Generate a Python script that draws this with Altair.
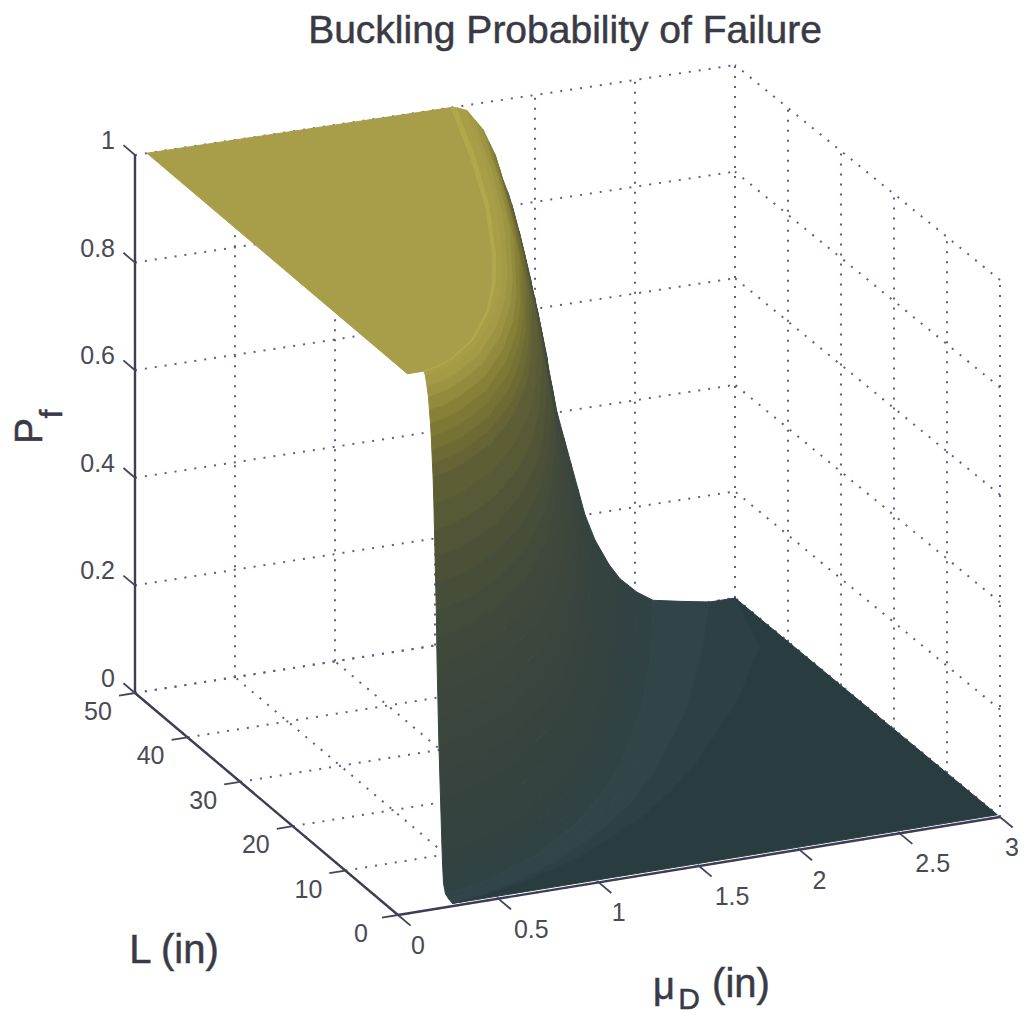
import altair as alt
import pandas as pd

# surface table: for each Pf level, the mu_D (in) reached at each L (in)
L_VALUES = [0.5, 1, 2, 5, 10, 15, 20, 30, 40, 50]
PF_LEVELS = [1, 1, .998, .99, .97, .95, .925, .90, .875, .85, .825, .80, .75, .70, .65, .60, .55,
             .50, .45, .40, .35, .30, .25, .20, .15, .10, .07, .04, .02, .01, 0, 0, 0]
MU_TABLE = [
    [.06, .06, .06, .06, .06, .06, .06, .06, .06, .06],
    [.140, .223, .316, .499, .706, .866, .999, 1.225, 1.413, 1.58],
    [.145, .227, .322, .509, .720, .882, 1.018, 1.248, 1.439, 1.61],
    [.150, .234, .332, .525, .742, .910, 1.049, 1.287, 1.484, 1.66],
    [.158, .240, .340, .537, .760, .932, 1.074, 1.318, 1.520, 1.70],
    [.165, .245, .348, .550, .778, .954, 1.100, 1.349, 1.556, 1.74],
    [.170, .250, .354, .559, .791, .970, 1.119, 1.372, 1.582, 1.77],
    [.175, .254, .360, .569, .805, .986, 1.138, 1.395, 1.609, 1.80],
    [.179, .257, .364, .575, .814, .997, 1.150, 1.411, 1.627, 1.82],
    [.182, .259, .368, .581, .822, 1.008, 1.163, 1.426, 1.645, 1.84],
    [.185, .263, .373, .589, .834, 1.022, 1.179, 1.445, 1.667, 1.865],
    [.188, .266, .377, .596, .843, 1.033, 1.191, 1.461, 1.685, 1.885],
    [.192, .271, .384, .607, .858, 1.052, 1.213, 1.488, 1.716, 1.92],
    [.195, .275, .390, .616, .872, 1.069, 1.232, 1.511, 1.743, 1.95],
    [.198, .279, .396, .626, .885, 1.085, 1.251, 1.535, 1.770, 1.98],
    [.201, .283, .402, .635, .898, 1.101, 1.270, 1.558, 1.797, 2.01],
    [.204, .287, .407, .643, .910, 1.115, 1.286, 1.577, 1.819, 2.035],
    [.206, .290, .411, .649, .919, 1.126, 1.299, 1.593, 1.837, 2.055],
    [.208, .294, .417, .659, .932, 1.143, 1.318, 1.616, 1.864, 2.085],
    [.211, .298, .422, .667, .943, 1.156, 1.334, 1.635, 1.886, 2.11],
    [.214, .302, .429, .678, .959, 1.175, 1.356, 1.662, 1.918, 2.145],
    [.217, .307, .436, .689, .974, 1.195, 1.378, 1.690, 1.949, 2.18],
    [.221, .312, .443, .700, .990, 1.214, 1.400, 1.717, 1.980, 2.215],
    [.225, .317, .450, .711, 1.006, 1.233, 1.422, 1.744, 2.012, 2.25],
    [.229, .324, .460, .727, 1.028, 1.260, 1.454, 1.783, 2.056, 2.30],
    [.233, .334, .474, .749, 1.059, 1.299, 1.498, 1.837, 2.119, 2.37],
    [.236, .342, .485, .766, 1.084, 1.329, 1.533, 1.879, 2.168, 2.425],
    [.240, .354, .502, .793, 1.122, 1.375, 1.586, 1.945, 2.244, 2.51],
    [.250, .365, .518, .818, 1.158, 1.419, 1.637, 2.007, 2.315, 2.59],
    [.265, .384, .545, .861, 1.218, 1.493, 1.722, 2.112, 2.436, 2.725],
    [.285, .405, .575, .909, 1.285, 1.576, 1.817, 2.228, 2.570, 2.875],
    [.32, .45, .64, 1.01, 1.43, 1.75, 2.02, 2.48, 2.86, 3.0],
    [3.0, 3.0, 3.0, 3.0, 3.0, 3.0, 3.0, 3.0, 3.0, 3.0],
]
BAND_COLORS = [
    "#a89e4a", "#b2a84b", "#a89e48", "#a59b46", "#9c9442", "#928a3d", "#878037", "#7d7834", "#767134",
    "#6e6a34", "#666434", "#5e5e36", "#585935", "#515436", "#4b5037", "#464d38", "#424a3a",
    "#3f483b", "#3d473b", "#3c463c", "#3a453d", "#38443d", "#37433e", "#35433f", "#344240",
    "#334241", "#324243", "#314244", "#314548", "#30444a", "#2d4044", "#293c3f",
]

MU_TICKS = [0, 0.5, 1, 1.5, 2, 2.5, 3]
MU_LABELS = ["0", "0.5", "1", "1.5", "2", "2.5", "3"]
L_TICKS = [0, 10, 20, 30, 40, 50]
Z_TICKS = [0, 0.2, 0.4, 0.6, 0.8, 1]
Z_LABELS = ["0", "0.2", "0.4", "0.6", "0.8", "1"]

# view: where the corners of the data box fall on the page
FLOOR = {"o": (398, 915), "m": (1000, 817), "l": (135, 693), "ml": (735, 598)}
HEIGHT = {"o": 537, "m": 537, "l": 538, "ml": 533}


def project(mu, L, z):
    a, b = mu / 3, L / 50
    w = {"o": (1 - a) * (1 - b), "m": a * (1 - b), "l": (1 - a) * b, "ml": a * b}
    x = sum(w[k] * FLOOR[k][0] for k in w)
    y = sum(w[k] * (FLOOR[k][1] - z * HEIGHT[k]) for k in w)
    return x, y


# surface bands
rows = []
for i in range(len(MU_TABLE) - 1):
    path = [(MU_TABLE[i][j], L_VALUES[j], PF_LEVELS[i]) for j in range(len(L_VALUES))]
    path += [(MU_TABLE[i + 1][j], L_VALUES[j], PF_LEVELS[i + 1]) for j in reversed(range(len(L_VALUES)))]
    path.append(path[0])
    for k, (m, l, z) in enumerate(path):
        x, y = project(m, l, z)
        rows.append({"band": i, "k": k, "x": x, "y": y, "c": BAND_COLORS[i]})
surface_df = pd.DataFrame(rows)


def segs(pairs):
    out = []
    for n, (p, q) in enumerate(pairs):
        for k, e in enumerate((p, q)):
            x, y = project(*e)
            out.append({"id": n, "k": k, "x": x, "y": y})
    return pd.DataFrame(out)


grid_pairs = []
for m in MU_TICKS:
    grid_pairs.append(((m, 50, 0), (m, 50, 1)))
    grid_pairs.append(((m, 0, 0), (m, 50, 0)))
for l in L_TICKS:
    grid_pairs.append(((3, l, 0), (3, l, 1)))
    grid_pairs.append(((0, l, 0), (3, l, 0)))
for z in Z_TICKS:
    grid_pairs.append(((0, 50, z), (3, 50, z)))
    grid_pairs.append(((3, 0, z), (3, 50, z)))
grid_df = segs(grid_pairs)

axis_pairs = [((0, 50, 0), (0, 50, 1)), ((0, 0, 0), (3, 0, 0)), ((0, 0, 0), (0, 50, 0))]
axis_df = segs(axis_pairs)
tick_pairs = [((0, 50, z), (0, 52.2, z)) for z in Z_TICKS]
tick_pairs += [((m, 0, 0), (m, -2.4, 0)) for m in MU_TICKS]
tick_pairs += [((0, l, 0), (-0.08, l, 0)) for l in L_TICKS]
tick_df = segs(tick_pairs)

X = alt.X("x:Q", axis=None, scale=alt.Scale(domain=[8, 1020], range=[0, 1012], nice=False, zero=False))
Y = alt.Y("y:Q", axis=None, scale=alt.Scale(domain=[8, 1017], range=[0, 1009], nice=False, zero=False))

grid = alt.Chart(grid_df).mark_line(color="#5e5e86", strokeWidth=2, strokeDash=[2, 8]).encode(
    x=X, y=Y, detail="id:N", order="k:Q")
surface = alt.Chart(surface_df).mark_line(strokeWidth=1).encode(
    x=X, y=Y, order="k:Q", detail="band:N",
    stroke=alt.Stroke("c:N", scale=None), fill=alt.Fill("c:N", scale=None))
axes = alt.Chart(axis_df).mark_line(color="#3d3d55", strokeWidth=2.4).encode(
    x=X, y=Y, detail="id:N", order="k:Q")
ticks = alt.Chart(tick_df).mark_line(color="#45455f", strokeWidth=1.8).encode(
    x=X, y=Y, detail="id:N", order="k:Q")

z_rows = []
for z, s in zip(Z_TICKS, Z_LABELS):
    x, y = project(0, 50, z)
    z_rows.append({"x": x - 20, "y": y - 14, "t": s})
l_rows = []
for l in L_TICKS:
    x, y = project(0, l, 0)
    l_rows.append({"x": x - 37, "y": y + 19, "t": str(l)})
m_rows = []
for m, s in zip(MU_TICKS, MU_LABELS):
    x, y = project(m, 0, 0)
    m_rows.append({"x": min(x + (33 if "." in s else 20), 1012), "y": y + 31, "t": s})

TXT = "#4a4a55"
FONT = "Liberation Sans"
z_text = alt.Chart(pd.DataFrame(z_rows)).mark_text(align="right", baseline="middle", font=FONT, fontSize=25, color=TXT).encode(x=X, y=Y, text="t:N")
l_text = alt.Chart(pd.DataFrame(l_rows)).mark_text(align="center", baseline="middle", font=FONT, fontSize=25, color=TXT).encode(x=X, y=Y, text="t:N")
m_text = alt.Chart(pd.DataFrame(m_rows)).mark_text(align="center", baseline="middle", font=FONT, fontSize=25, color=TXT).encode(x=X, y=Y, text="t:N")

titles = pd.DataFrame([
    {"x": 565, "y": 31, "t": "Buckling Probability of Failure", "fs": 39, "a": 0},
    {"x": 174, "y": 951, "t": "L (in)", "fs": 40, "a": 0},
    {"x": 664, "y": 988, "t": "μ", "fs": 38, "a": 0},
    {"x": 689, "y": 1000, "t": "D", "fs": 30, "a": 0},
    {"x": 741, "y": 985, "t": "(in)", "fs": 40, "a": 0},
    {"x": 30, "y": 431, "t": "P", "fs": 39, "a": 270},
    {"x": 52, "y": 414, "t": "f", "fs": 32, "a": 270},
])
title_text = alt.Chart(titles).mark_text(align="center", baseline="middle", font=FONT, color="#3a3a46",
                                         stroke="#3a3a46", strokeWidth=0.5).encode(
    x=X, y=Y, text="t:N", size=alt.Size("fs:Q", scale=None), angle=alt.Angle("a:Q", scale=None))

chart = alt.layer(grid, surface, axes, ticks, z_text, l_text, m_text, title_text).properties(
    width=1012, height=1009, padding=0, autosize=alt.AutoSizeParams(type="none"),
    background="white",
).configure_view(stroke=None)

chart.save("out.html", embed_options={"renderer": "svg", "actions": False})
